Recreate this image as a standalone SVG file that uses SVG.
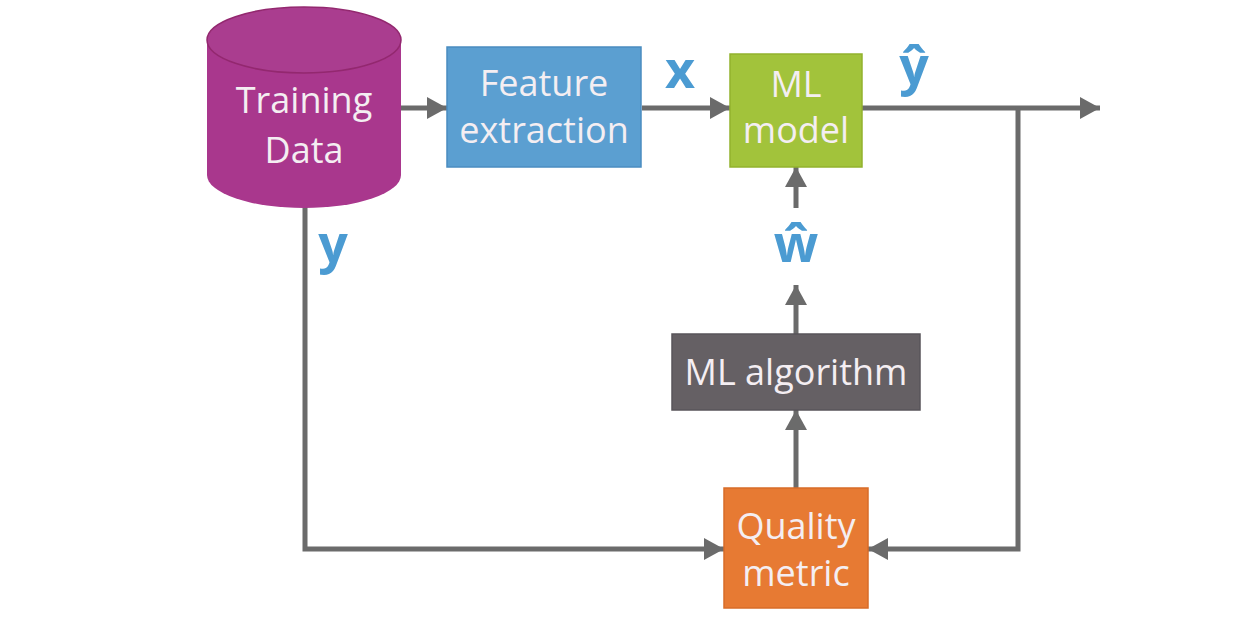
<svg xmlns="http://www.w3.org/2000/svg" width="1240" height="623" viewBox="0 0 1240 623">
<style>
.lbl{font-family:"Open Sans","Liberation Sans",sans-serif;fill:#f4eef2;font-size:36px;text-anchor:middle}
.var{font-family:"Open Sans","Liberation Sans",sans-serif;fill:#4b9bd2;font-size:52px;font-weight:bold;text-anchor:middle}
.wire{stroke:#6b6b6b;stroke-width:5;fill:none}
</style>
<defs>
<marker id="ah" viewBox="0 0 10 10" refX="10" refY="5" markerWidth="4" markerHeight="4.4" orient="auto" markerUnits="strokeWidth" preserveAspectRatio="none">
<path d="M0,0 L10,5 L0,10 Z" fill="#6b6b6b"/>
</marker>
</defs>
<rect width="1240" height="623" fill="#ffffff"/>
<g id="connectors">
<path class="wire" d="M401,108 L447,108" marker-end="url(#ah)"/>
<path class="wire" d="M642,108 L730,108" marker-end="url(#ah)"/>
<path class="wire" d="M862,108 L1100,108" marker-end="url(#ah)"/>
<path class="wire" d="M1018,108 L1018,549 L868,549" marker-end="url(#ah)"/>
<path class="wire" d="M305,205 L305,549 L724,549" marker-end="url(#ah)"/>
<path class="wire" d="M796,208 L796,167" marker-end="url(#ah)"/>
<path class="wire" d="M796,334 L796,285" marker-end="url(#ah)"/>
<path class="wire" d="M796,488 L796,410" marker-end="url(#ah)"/>
</g>
<g id="training-data">
<path d="M207,40 L207,175 A97,33 0 0 0 401,175 L401,40 Z" fill="#a9378d"/>
<ellipse cx="304" cy="40" rx="97" ry="33" fill="#aa3d8f" stroke="#93286f" stroke-width="1.5"/>
<text class="lbl" x="304" y="113">Training</text>
<text class="lbl" x="304" y="163">Data</text>
</g>
<g id="feature-extraction">
<rect x="447" y="47" width="194" height="120" fill="#5b9fd1" stroke="#4a8cc0" stroke-width="1.5"/>
<text class="lbl" x="544" y="96">Feature</text>
<text class="lbl" x="544" y="143">extraction</text>
</g>
<g id="ml-model">
<rect x="730" y="54" width="132" height="113" fill="#a2c33b" stroke="#92b22e" stroke-width="1.5"/>
<text class="lbl" x="796" y="97">ML</text>
<text class="lbl" x="796" y="143">model</text>
</g>
<g id="ml-algorithm">
<rect x="672" y="334" width="248" height="76" fill="#656064" stroke="#58545a" stroke-width="1.5"/>
<text class="lbl" x="796" y="385">ML algorithm</text>
</g>
<g id="quality-metric">
<rect x="724" y="488" width="144" height="120" fill="#e77a33" stroke="#d86c28" stroke-width="1.5"/>
<text class="lbl" x="796" y="539">Quality</text>
<text class="lbl" x="796" y="586">metric</text>
</g>
<g id="labels">
<text class="var" x="680" y="88">x</text>
<text class="var" x="914" y="84">ŷ</text>
<text class="var" x="796" y="262">ŵ</text>
<text class="var" x="333" y="262">y</text>
</g>
</svg>
